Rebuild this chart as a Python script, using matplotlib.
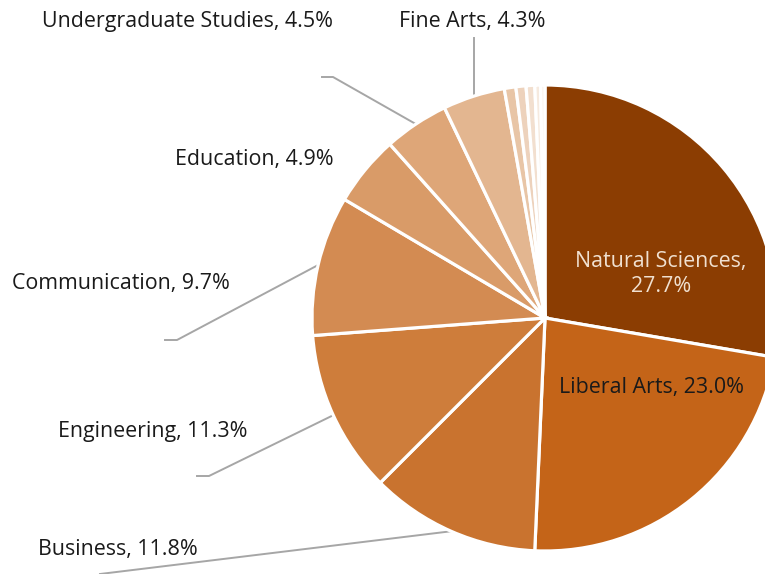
import numpy as np
import matplotlib
matplotlib.use("Agg")
import matplotlib.pyplot as plt

# data (percent of total, clockwise from 12 o'clock)
colleges = ["Natural Sciences", "Liberal Arts", "Business", "Engineering",
            "Communication", "Education", "Undergraduate Studies", "Fine Arts",
            "Other 1", "Other 2", "Other 3", "Other 4", "Other 5"]
shares = [27.7, 23.0, 11.8, 11.3, 9.7, 4.9, 4.5, 4.3, 0.8, 0.7, 0.6, 0.4, 0.3]
colors = ["#8B3D02", "#C46418", "#C9732F", "#CE7D3B", "#D38B52", "#D99B68",
          "#DEA678", "#E3B690", "#E8C5A6", "#EDD2BC", "#F2DFCF", "#F6EADF", "#FAF3EC"]

# layout, in pixels (y down)
W, H = 765, 574
CX, CY, R = 545, 318, 233
FS = 15.4
FONT = ["Open Sans", "DejaVu Sans"]
LINE = "#A6A6A6"

fig = plt.figure(figsize=(W / 100, H / 100), dpi=100)
ax = fig.add_axes([0, 0, 1, 1])

wedges, _ = ax.pie(shares, colors=colors, center=(CX, CY), radius=R,
                   startangle=-90, counterclock=True, frame=True,
                   wedgeprops=dict(edgecolor="white", linewidth=2.3))
ax.set_xlim(0, W)
ax.set_ylim(H, 0)
ax.set_aspect("equal")
ax.axis("off")


def edge_point(w):
    a = np.deg2rad((w.theta1 + w.theta2) / 2)
    return CX + R * np.cos(a), CY + R * np.sin(a)


# inside labels
ax.text(661, 274, "Natural Sciences,\n27.7%", color="#F0E0D0", fontsize=FS,
        family=FONT, ha="center", va="center", linespacing=1.3)
ax.text(652, 387, "Liberal Arts, 23.0%", color="#1A1A1A", fontsize=FS,
        family=FONT, ha="center", va="center")

# outside labels: index, label pos, anchor, leader elbow points
outside = [
    (2, (38, 549), "left", [(100, 574)]),
    (3, (58, 431), "left", [(197, 476), (209, 476)]),
    (4, (12, 284), "left", [(165, 340), (177, 340)]),
    (5, (334, 159), "right", None),
    (6, (42, 22), "left", [(322, 77), (333, 77)]),
    (7, (399, 22), "left", [(470, 38)]),
]
for i, (tx, ty), ha, elbow in outside:
    ax.text(tx, ty, f"{colleges[i]}, {shares[i]:.1f}%", color="#1A1A1A",
            fontsize=FS, family=FONT, ha=ha, va="center")
    if elbow:
        px, py = edge_point(wedges[i])
        pts = elbow + [(px, py)]
        if i == 7:
            pts = [(px, elbow[0][1]), (px, py)]
        xs, ys = zip(*pts)
        ax.plot(xs, ys, color=LINE, lw=1.4, zorder=0, clip_on=False)

fig.savefig("out.png", dpi=100)
